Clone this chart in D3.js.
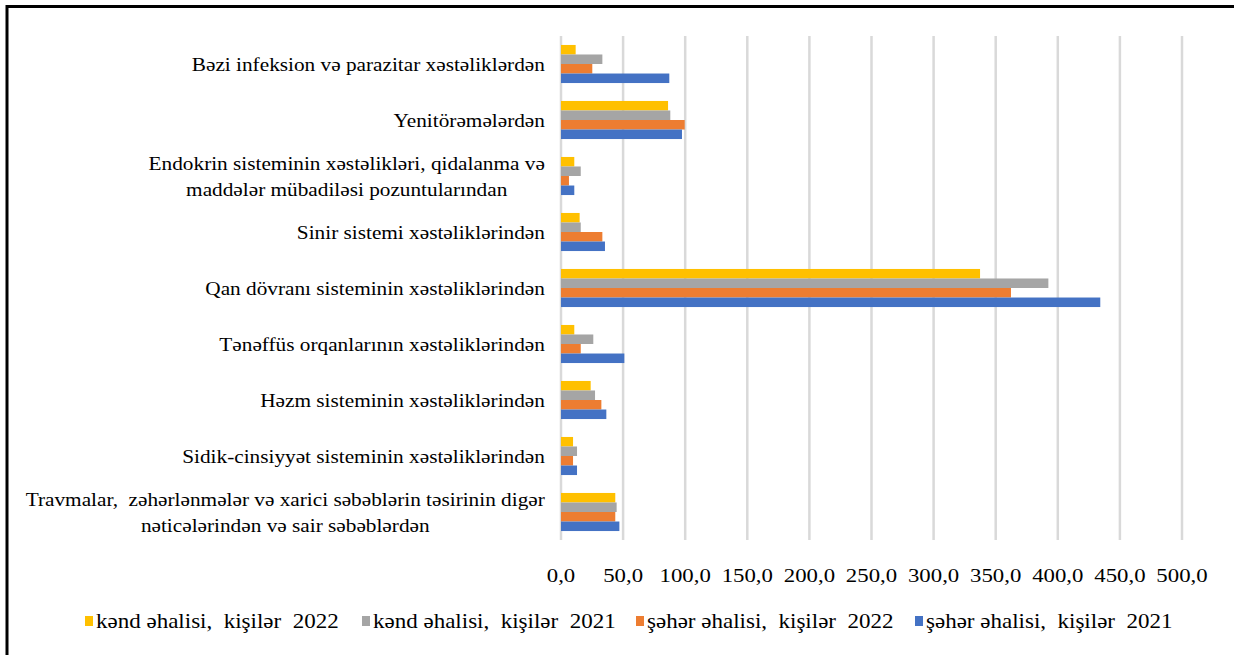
<!DOCTYPE html>
<html>
<head>
<meta charset="utf-8">
<script src="https://cdn.jsdelivr.net/npm/d3@7"></script>
<style>
  body { margin: 0; background: #fff; }
  text { font-family: "Liberation Serif", "DejaVu Serif", serif; }
</style>
</head>
<body>
<script>
// categories, top to bottom; multi-line labels split with "\n"
const categories = [
  "Bəzi infeksion və parazitar xəstəliklərdən",
  "Yenitörəmələrdən",
  "Endokrin sisteminin xəstəlikləri, qidalanma və\nmaddələr mübadiləsi pozuntularından",
  "Sinir sistemi xəstəliklərindən",
  "Qan dövranı sisteminin xəstəliklərindən",
  "Tənəffüs orqanlarının xəstəliklərindən",
  "Həzm sisteminin xəstəliklərindən",
  "Sidik-cinsiyyət sisteminin xəstəliklərindən",
  "Travmalar,  zəhərlənmələr və xarici səbəblərin təsirinin digər\nnəticələrindən və sair səbəblərdən"
];

const kend2022  = [11.8, 86.2, 10.7, 15.0, 337.4, 10.7, 23.9,  9.7, 43.7];
const kend2021  = [33.3, 88.0, 15.9, 15.9, 392.4, 26.0, 27.4, 12.9, 44.8];
const seher2022 = [25.2, 99.6,  6.4, 33.3, 362.3, 15.9, 32.5,  9.7, 43.7];
const seher2021 = [87.2, 97.4, 10.7, 35.4, 434.2, 51.0, 36.5, 12.9, 47.0];

const seriesNames = [
  "kənd əhalisi,  kişilər  2022",
  "kənd əhalisi,  kişilər  2021",
  "şəhər əhalisi,  kişilər  2022",
  "şəhər əhalisi,  kişilər  2021"
];
const seriesValues = [kend2022, kend2021, seher2022, seher2021];
const colors = ["#FFC000", "#A5A5A5", "#ED7D31", "#4472C4"];
const xTicks = [0, 50, 100, 150, 200, 250, 300, 350, 400, 450, 500];

const width = 1234, height = 655;

const svg = d3.select("body").append("svg")
  .attr("width", width)
  .attr("height", height);

// frame: top and left edges only are visible
svg.append("path")
  .attr("d", "M7,655 V6.5 H1234")
  .attr("fill", "none")
  .attr("stroke", "#000")
  .attr("stroke-width", 3);

const x = d3.scaleLinear().domain([0, 500]).range([561, 1182]);
const y = d3.scaleBand()
  .domain(d3.range(categories.length))
  .range([36, 540])
  .paddingInner(0.32)
  .paddingOuter(0.16);
const ySub = d3.scaleBand()
  .domain(d3.range(seriesNames.length))
  .range([0, y.bandwidth()]);

const fmt = d3.formatLocale({decimal: ",", thousands: " ", grouping: [3], currency: ["", ""]}).format(".1f");

// gridlines
svg.append("g").selectAll("line")
  .data(xTicks)
  .join("line")
  .attr("x1", d => x(d)).attr("x2", d => x(d))
  .attr("y1", 36).attr("y2", 540)
  .attr("stroke", "#d9d9d9")
  .attr("stroke-width", 2.5);

// tick labels
svg.append("g").selectAll("text")
  .data(xTicks)
  .join("text")
  .attr("transform", d => `translate(${x(d)},582) scale(1.2,1)`)
  .attr("text-anchor", "middle")
  .style("font-size", "19px")
  .text(d => fmt(d));

// bars
const rows = [];
seriesValues.forEach((vals, s) => vals.forEach((v, c) => rows.push({s, c, v})));
svg.append("g").selectAll("rect")
  .data(rows)
  .join("rect")
  .attr("x", x(0))
  .attr("y", d => y(d.c) + ySub(d.s))
  .attr("width", d => x(d.v) - x(0))
  .attr("height", ySub.bandwidth())
  .attr("fill", d => colors[d.s]);

// category labels, right edge at 545, lines centred within the block
const labelX = 545, fs = 19, sx = 1.12, lineH = 26;
categories.forEach((label, i) => {
  const lines = label.split("\n");
  const cy = y(i) + y.bandwidth() / 2;
  const g = svg.append("g");
  const texts = lines.map((ln, k) => g.append("text")
    .style("font-size", fs + "px")
    .style("white-space", "pre")
    .attr("text-anchor", "middle")
    .attr("dy", "0.35em")
    .text(ln));
  const maxW = d3.max(texts, t => t.node().getComputedTextLength());
  texts.forEach((t, k) => {
    const ly = cy + (k - (lines.length - 1) / 2) * lineH;
    t.attr("transform", `translate(${labelX - maxW * sx / 2},${ly}) scale(${sx},1)`);
  });
});

// legend
const legX = [85, 362, 636, 915];
const leg = svg.append("g").selectAll("g")
  .data(seriesNames)
  .join("g")
  .attr("transform", (d, i) => `translate(${legX[i]},621)`);
leg.append("rect")
  .attr("x", 0).attr("y", -5)
  .attr("width", 8).attr("height", 10)
  .attr("fill", (d, i) => colors[i]);
leg.append("text")
  .attr("transform", "translate(11,0) scale(1.15,1)")
  .attr("dy", "0.35em")
  .style("font-size", "20px")
  .style("white-space", "pre")
  .text(d => d);
</script>
</body>
</html>
